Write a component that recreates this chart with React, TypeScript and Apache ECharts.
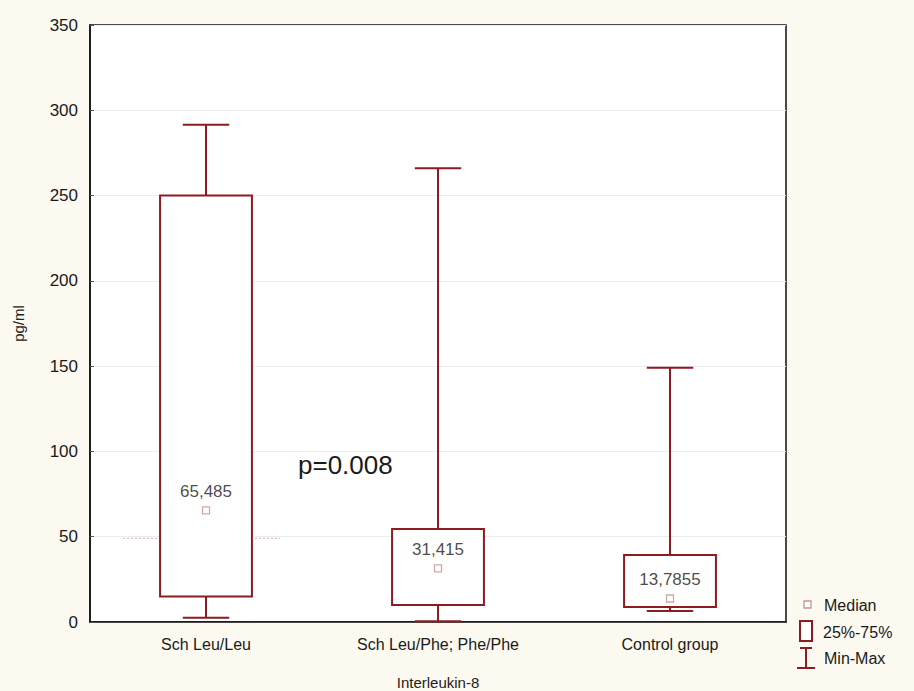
import React, { useEffect, useRef } from "react";
import * as echarts from "echarts";

const categories = ["Sch Leu/Leu", "Sch Leu/Phe; Phe/Phe", "Control group"];
const minValues = [2.5, 0.5, 6.5];
const q1Values = [15, 10, 8.8];
const medianValues = [65.485, 31.415, 13.7855];
const q3Values = [250, 54.5, 39.3];
const maxValues = [291.5, 266, 149];
const medianLabels = ["65,485", "31,415", "13,7855"];
const yTicks = [0, 50, 100, 150, 200, 250, 300, 350];

const RED = "#8e1b22";
const MED = "#c49494";
const FONT = "Liberation Sans, Arial, sans-serif";

export default function App() {
  const ref = useRef<HTMLDivElement>(null);
  useEffect(() => {
    document.body.style.margin = "0";
    const chart = echarts.init(ref.current!, null, { renderer: "svg" });
    const boxData = categories.map((_, i) => [i, minValues[i], q1Values[i], q3Values[i], maxValues[i]]);
    chart.setOption({
      animation: false,
      backgroundColor: "#fcf9f0",
      grid: {
        left: 90,
        top: 25,
        width: 696,
        height: 597,
        show: true,
        containLabel: false,
        outerBoundsMode: "none",
        backgroundColor: "#ffffff",
        borderColor: "#111",
        borderWidth: 1.5,
      },
      xAxis: {
        type: "category",
        data: categories,
        name: "Interleukin-8",
        nameLocation: "middle",
        nameGap: 53,
        nameTextStyle: { fontFamily: FONT, fontSize: 15, color: "#222" },
        axisLine: { show: true, lineStyle: { color: "#111", width: 1.5 } },
        axisTick: { show: false },
        axisLabel: { fontFamily: FONT, fontSize: 16, color: "#1a1a1a", margin: 14 },
        splitLine: { show: false },
      },
      yAxis: {
        type: "value",
        min: 0,
        max: 350,
        interval: 50,
        name: "pg/ml",
        nameLocation: "middle",
        nameGap: 64,
        nameTextStyle: { fontFamily: FONT, fontSize: 15, color: "#222" },
        axisLine: { show: true, lineStyle: { color: "#111", width: 1.5 } },
        axisTick: { show: true, inside: true, length: 4, lineStyle: { color: "#555" } },
        axisLabel: {
          fontFamily: FONT,
          fontSize: 17,
          color: "#1a1a1a",
          margin: 12,
          formatter: (v: number) => (yTicks.includes(v) ? String(v) : ""),
        },
        splitLine: { show: true, lineStyle: { color: "#ececec", width: 1 } },
      },
      series: [
        {
          type: "custom",
          name: "artifact",
          silent: true,
          data: [[0, 49]],
          renderItem: (params: any, api: any) => {
            const p = api.coord([api.value(0), api.value(1)]);
            return {
              type: "line",
              shape: { x1: p[0] - 83, y1: p[1], x2: p[0] + 74, y2: p[1] },
              style: { stroke: "#e3b3b3", lineWidth: 1, lineDash: [2, 2] },
            };
          },
          z: 1,
        },
        {
          type: "custom",
          name: "Box",
          data: boxData,
          renderItem: (params: any, api: any) => {
            const idx = api.value(0);
            const band = api.size([1, 0])[0];
            const boxW = band * 0.396;
            const capW = band * 0.2;
            const pMin = api.coord([idx, api.value(1)]);
            const pQ1 = api.coord([idx, api.value(2)]);
            const pQ3 = api.coord([idx, api.value(3)]);
            const pMax = api.coord([idx, api.value(4)]);
            const x = pQ1[0];
            const st = { stroke: RED, lineWidth: 2, fill: null };
            return {
              type: "group",
              children: [
                { type: "line", shape: { x1: x, y1: pQ3[1], x2: x, y2: pMax[1] }, style: st },
                { type: "line", shape: { x1: x, y1: pQ1[1], x2: x, y2: pMin[1] }, style: st },
                { type: "line", shape: { x1: x - capW / 2, y1: pMax[1], x2: x + capW / 2, y2: pMax[1] }, style: st },
                { type: "line", shape: { x1: x - capW / 2, y1: pMin[1], x2: x + capW / 2, y2: pMin[1] }, style: st },
                {
                  type: "rect",
                  shape: { x: x - boxW / 2, y: pQ3[1], width: boxW, height: pQ1[1] - pQ3[1] },
                  style: { stroke: RED, lineWidth: 2, fill: "#ffffff" },
                },
              ],
            };
          },
          z: 2,
        },
        {
          type: "scatter",
          name: "Median",
          data: medianValues.map((v, i) => [i, v]),
          symbol: "rect",
          symbolSize: 7,
          itemStyle: { color: "#ffffff", borderColor: MED, borderWidth: 1.3 },
          label: {
            show: true,
            position: "top",
            distance: 6,
            formatter: (p: any) => medianLabels[p.dataIndex],
            fontFamily: FONT,
            fontSize: 17,
            color: "#1a1a1a",
          },
          z: 3,
        },
      ],
      graphic: [
        {
          type: "text",
          left: 298,
          top: 452,
          style: { text: "p=0.008", font: `26px ${FONT}`, fill: "#1a1a1a" },
        },
        {
          type: "rect",
          shape: { x: 804, y: 601, width: 7, height: 7 },
          style: { stroke: MED, lineWidth: 1.3, fill: "#fff" },
        },
        {
          type: "text",
          x: 824,
          y: 605,
          style: { text: "Median", font: `16px ${FONT}`, fill: "#1a1a1a", verticalAlign: "middle" },
        },
        {
          type: "rect",
          shape: { x: 800, y: 621, width: 12, height: 20 },
          style: { stroke: RED, lineWidth: 2, fill: "#fff" },
        },
        {
          type: "text",
          x: 823,
          y: 632,
          style: { text: "25%-75%", font: `16px ${FONT}`, fill: "#1a1a1a", verticalAlign: "middle" },
        },
        {
          type: "line",
          shape: { x1: 806, y1: 648, x2: 806, y2: 668 },
          style: { stroke: RED, lineWidth: 2 },
        },
        {
          type: "line",
          shape: { x1: 800, y1: 648, x2: 812, y2: 648 },
          style: { stroke: RED, lineWidth: 2 },
        },
        {
          type: "line",
          shape: { x1: 797, y1: 668, x2: 815, y2: 668 },
          style: { stroke: RED, lineWidth: 2 },
        },
        {
          type: "text",
          x: 824,
          y: 658,
          style: { text: "Min-Max", font: `16px ${FONT}`, fill: "#1a1a1a", verticalAlign: "middle" },
        },
      ],
    });
    return () => chart.dispose();
  }, []);
  return <div ref={ref} style={{ width: 914, height: 691 }} />;
}
